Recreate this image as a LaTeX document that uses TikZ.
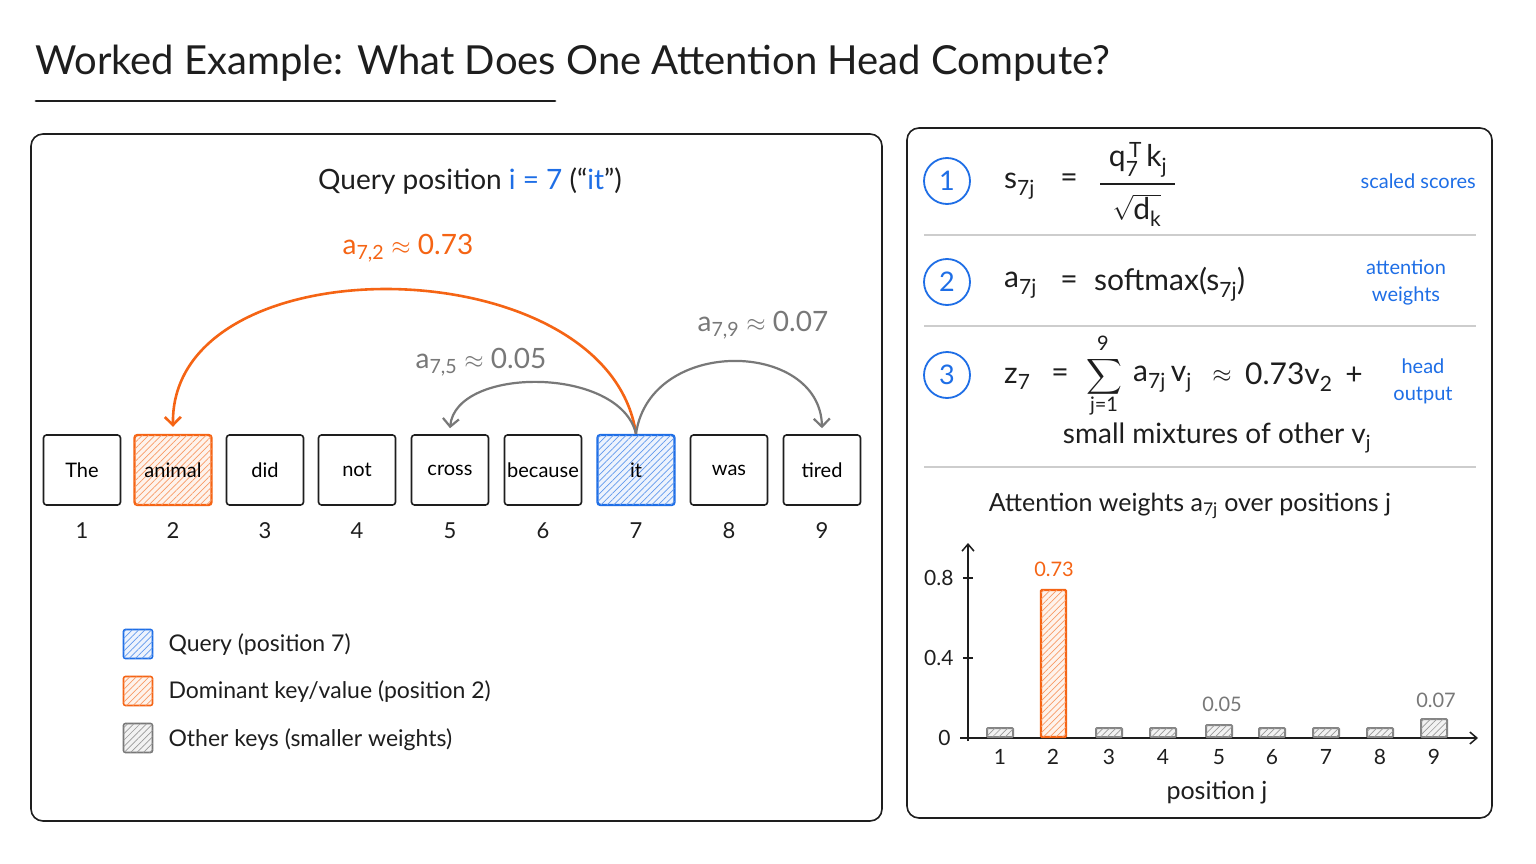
\documentclass[tikz,border=0pt]{standalone}
\usepackage{fontspec}
\setmainfont{Lato}
\usepackage{amsmath}
\usetikzlibrary{arrows.meta,patterns.meta}
\definecolor{ink}{RGB}{30,30,30}
\definecolor{acc}{RGB}{245,100,20}
\definecolor{qblue}{RGB}{30,110,230}
\definecolor{mgray}{RGB}{120,120,120}
\definecolor{sepgray}{RGB}{205,205,205}
\newcommand{\sbs}[1]{$_{\text{#1}}$}
\tikzset{
  fs/.style={font=\fontsize{#1}{#1}\selectfont},
  panel/.style={draw=ink, line width=1.6pt, rounded corners=12pt},
  tok/.style={draw=ink, line width=1.6pt, rounded corners=3pt, minimum width=77pt, minimum height=70pt, inner sep=0pt, fs=20},
  hatchO/.style={fill=acc!8, postaction={pattern={Lines[angle=45,distance=4.5pt,line width=0.7pt]}, pattern color=acc!65}},
  hatchB/.style={fill=qblue!8, postaction={pattern={Lines[angle=45,distance=4.5pt,line width=0.7pt]}, pattern color=qblue!70}},
  hatchG/.style={fill=black!5, postaction={pattern={Lines[angle=45,distance=4.5pt,line width=0.7pt]}, pattern color=black!40}},
  num/.style={fs=22, text=ink},
  lsq/.style={minimum size=29pt, inner sep=0pt, line width=1.6pt, rounded corners=2pt},
  ltxt/.style={anchor=west, fs=23, text=ink},
  warr/.style={line width=2.6pt, acc, -{Straight Barb[length=8pt,width=16pt,line width=2.6pt]}},
  garr/.style={line width=2.2pt, mgray, -{Straight Barb[length=8pt,width=16pt,line width=2.2pt]}},
  stepc/.style={circle, draw=qblue, line width=1.8pt, minimum size=46pt, inner sep=0pt, text=qblue, fs=27},
  form/.style={fs=30, text=ink, inner sep=0pt},
  blab/.style={text=qblue, font=\fontsize{20}{27}\selectfont, align=center, inner sep=0pt},
  sep/.style={sepgray, line width=1.2pt},
  axis/.style={ink, line width=1.5pt, -{Straight Barb[length=7pt,width=12pt,line width=1.5pt]}},
  gbar/.style={draw=mgray!90, line width=2pt, hatchG, rounded corners=1pt},
  obar/.style={draw=acc, line width=2.4pt, hatchO, rounded corners=1pt},
}
\begin{document}
\begin{tikzpicture}[x=1pt,y=-1pt]
\useasboundingbox (0,0) rectangle (1536,864);
\fill[white] (0,0) rectangle (1536,864);

% title
\node[anchor=west, fs=40, text=ink, inner sep=0pt] (title) at (35,63) {Worked Example: What Does One Attention Head Compute?};
\draw[ink, line width=2.8pt, line cap=round] (36,101) -- (555,101);

% panels
\draw[panel] (31,134) rectangle (882,821);
\draw[panel] (907,128) rectangle (1492,818);

% left panel
\node[fs=28, text=ink] (qpos) at (470,181) {Query position \textcolor{qblue}{i = 7} (“\textcolor{qblue}{it}”)};

\node[tok] (t1) at (82,470) {The};
\node[tok, draw=acc, line width=2.4pt, hatchO] (t2) at (173,470) {animal};
\node[tok] (t3) at (265,470) {did};
\node[tok] (t4) at (357,470) {not};
\node[tok] (t5) at (450,470) {cross};
\node[tok] (t6) at (543,470) {because};
\node[tok, draw=qblue, line width=2.4pt, hatchB] (t7) at (636,470) {it};
\node[tok] (t8) at (729,470) {was};
\node[tok] (t9) at (822,470) {tired};

\foreach \i/\x in {1/82,2/173,3/265,4/357,5/450,6/543,7/636,8/729,9/822}
  \node[num] (p\i) at (\x,531) {\i};

% arrows
\draw[warr] (t7.north) .. controls (608,245) and (170,240) .. ([yshift=7pt]t2.north);
\draw[garr] (t7.north) .. controls (620,366) and (456,366) .. ([yshift=6pt]t5.north);
\draw[garr] (t7.north) .. controls (650,336) and (820,340) .. ([yshift=6pt]t9.north);

\node[fs=28, text=acc] (l72) at (408,248) {a\sbs{7,2} $\approx$ 0.73};
\node[fs=28, text=mgray] (l75) at (481,362) {a\sbs{7,5} $\approx$ 0.05};
\node[fs=28, text=mgray] (l79) at (763,325) {a\sbs{7,9} $\approx$ 0.07};

% legend
\node[lsq, draw=qblue, hatchB] (lq) at (138,644) {};
\node[lsq, draw=acc, hatchO] (lo) at (138,691) {};
\node[lsq, draw=mgray, hatchG] (lg) at (138,738) {};
\node[ltxt] (lqt) at (165,645) {Query (position 7)};
\node[ltxt] (lot) at (165,692) {Dominant key/value (position 2)};
\node[ltxt] (lgt) at (165,740) {Other keys (smaller weights)};

% right panel: steps
\node[stepc] (c1) at (947,181) {1};
\node[stepc] (c2) at (947,282) {2};
\node[stepc] (c3) at (947,375) {3};

% formula 1
\node[form, anchor=west] (s1) at (1004,186) {s\sbs{7j}};
\node[form] (e1) at (1069,181) {=};
\node[form] (num1) at (1138,160) {$\text{q}_{\text{7}}^{\,\text{T}}\,\text{k}_{\text{j}}$};
\draw[ink, line width=1.6pt] (1100,184) -- (1175,184);
\node[form] (den1) at (1137,207) {$\sqrt{\smash[b]{\text{d}_{\text{k}}}}$};

% formula 2
\node[form, anchor=west] (a2) at (1004,285) {a\sbs{7j}};
\node[form] (e2) at (1069,283) {=};
\node[form, anchor=west] (sm2) at (1094,284) {softmax(s\sbs{7j})};

% formula 3
\node[form, anchor=west] (z3) at (1004,379) {z\sbs{7}};
\node[form] (e3) at (1060,376) {=};
\node[fs=27, text=ink, inner sep=0pt] (sig3) at (1104,377) {$\displaystyle\sum$};
\node[fs=20, text=ink, inner sep=0pt] (up3) at (1103,343) {9};
\node[fs=20, text=ink, inner sep=0pt] (lo3) at (1104,406) {j=1};
\node[form, anchor=west] (av3) at (1133,379) {a\sbs{7j}\,v\sbs{j}};
\node[form] (ap3) at (1222,376) {$\approx$};
\node[form, anchor=west] (v3) at (1245,377) {0.73v\sbs{2}};
\node[form] (pl3) at (1354,376) {+};
\node[fs=28, text=ink] (f3b) at (1217,438) {small mixtures of other v\sbs{j}};

\node[blab, anchor=east] (b1) at (1476,181) {scaled scores};
\node[blab] (b2) at (1406,282) {attention\\weights};
\node[blab] (b3) at (1423,381) {head\\output};

\draw[sep] (924,235) -- (1476,235);
\draw[sep] (924,326) -- (1476,326);
\draw[sep] (924,467) -- (1476,467);

% chart
\node[fs=25, text=ink] (ctitle) at (1190,506) {Attention weights a\sbs{7j} over positions j};
\coordinate (O) at (968,738);
\draw[axis] (968,741) -- (968,543);
\draw[axis] (960,738) -- (1478,738);
\draw[ink, line width=1.3pt] (963,578) -- (973,578);
\draw[ink, line width=1.3pt] (963,658) -- (973,658);
\node[anchor=east, fs=21, text=ink] (y8) at (957,578) {0.8};
\node[anchor=east, fs=21, text=ink] (y4) at (957,658) {0.4};
\node[anchor=east, fs=21, text=ink] (y0) at (954,738) {0};

\foreach \i/\x/\t in {1/1000/728,3/1109/728,4/1163/728,5/1219/725,6/1272/728,7/1326/728,8/1380/728,9/1434/719}
  \draw[gbar] (\x-13,737) rectangle (\x+13,\t);
\draw[obar] (1041,737) rectangle (1066,590);

\node[fs=20, text=acc] (v73) at (1054,569) {0.73};
\node[fs=20, text=mgray] (v05) at (1222,704) {0.05};
\node[fs=20, text=mgray] (v07) at (1436,700) {0.07};

\foreach \i/\x in {1/1000,2/1053,3/1109,4/1163,5/1219,6/1272,7/1326,8/1380,9/1434}
  \node[fs=21, text=ink] (x\i) at (\x,757) {\i};
\node[fs=25, text=ink] (xlab) at (1217,793) {position j};
\end{tikzpicture}
\end{document}
